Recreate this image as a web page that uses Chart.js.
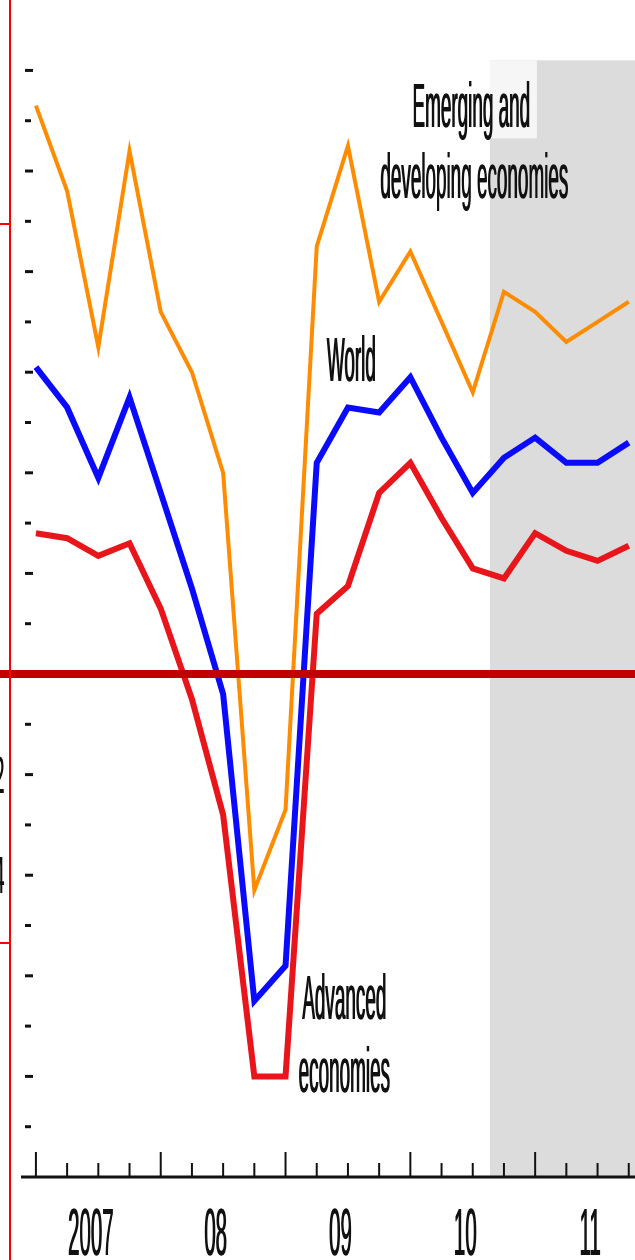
<!DOCTYPE html>
<html>
<head>
<meta charset="utf-8">
<script src="https://cdn.jsdelivr.net/npm/chart.js"></script>
<style>
  html, body { margin: 0; padding: 0; background: #fff; }
  #wrap { width: 635px; height: 1260px; position: relative; }
</style>
</head>
<body>
<div id="wrap"><canvas id="growth-chart"></canvas></div>
<script>
var quarters = ['2007Q1', '2007Q2', '2007Q3', '2007Q4', '2008Q1', '2008Q2', '2008Q3', '2008Q4',
  '2009Q1', '2009Q2', '2009Q3', '2009Q4', '2010Q1', '2010Q2', '2010Q3', '2010Q4',
  '2011Q1', '2011Q2', '2011Q3', '2011Q4'];
var emerging = [11.3, 9.6, 6.5, 10.4, 7.2, 6.0, 4.0, -4.3, -2.7, 8.5, 10.5, 7.4, 8.4, 7.0, 5.6, 7.6, 7.2, 6.6, 7.0, 7.4];
var world = [6.1, 5.3, 3.9, 5.5, 3.6, 1.7, -0.4, -6.5, -5.8, 4.2, 5.3, 5.2, 5.9, 4.7, 3.6, 4.3, 4.7, 4.2, 4.2, 4.6];
var advanced = [2.8, 2.7, 2.35, 2.6, 1.3, -0.5, -2.8, -8.0, -8.0, 1.2, 1.75, 3.6, 4.2, 3.1, 2.1, 1.9, 2.8, 2.45, 2.25, 2.55];
var yearLabels = ['2007', '08', '09', '10', '11'];
var yTickValues = [-9, -8, -7, -6, -5, -4, -3, -2, -1, 1, 2, 3, 4, 5, 6, 7, 8, 9, 10, 11, 12];
var leftLabels = ['\u22122', '\u22124'];
var leftLabelValues = [-2, -4];
var projectionStart = 14.55; // quarter index where the shaded forecast begins

function points(arr) {
  return arr.map(function (v, i) { return { x: i, y: v }; });
}

// draws narrow text like the original condensed face (drawn twice to thicken stems)
function narrowText(c, text, x, y, size, sx, align) {
  for (var k = 0; k < 2; k++) {
    c.save();
    c.translate(x + k * 0.7, y);
    c.scale(sx, 1);
    c.font = size + 'px "Liberation Sans", Arial, sans-serif';
    c.textAlign = align || 'center';
    c.textBaseline = 'alphabetic';
    c.fillStyle = '#111';
    c.fillText(text, 0, 0);
    c.restore();
  }
}

var decor = {
  id: 'decor',
  beforeDatasetsDraw: function (chart) {
    var c = chart.ctx, xs = chart.scales.x, ys = chart.scales.y, a = chart.chartArea;
    c.save();
    var sx = xs.getPixelForValue(projectionStart);
    var sy = ys.getPixelForValue(12.2);
    c.fillStyle = '#dcdcdc';
    c.fillRect(sx, sy, a.right - sx, a.bottom - sy);
    c.fillStyle = '#f6f6f6';
    c.fillRect(sx, sy, 47, 78);
    c.restore();
  },
  afterDatasetsDraw: function (chart) {
    var c = chart.ctx, xs = chart.scales.x, ys = chart.scales.y, a = chart.chartArea;
    c.save();

    // zero line across the whole width
    var y0 = ys.getPixelForValue(0);
    c.strokeStyle = '#c00000';
    c.lineWidth = 8;
    c.beginPath();
    c.moveTo(0, y0);
    c.lineTo(chart.width, y0);
    c.stroke();

    // y dashes
    c.strokeStyle = '#111';
    c.lineWidth = 3;
    yTickValues.forEach(function (v) {
      var py = ys.getPixelForValue(v);
      var w = (v % 2 === 0) ? 8 : 6;
      c.beginPath();
      c.moveTo(a.left, py);
      c.lineTo(a.left + w, py);
      c.stroke();
    });

    // x axis with quarter ticks pointing up
    c.lineWidth = 3;
    c.beginPath();
    c.moveTo(a.left - 4, a.bottom);
    c.lineTo(a.right, a.bottom);
    c.stroke();
    c.lineWidth = 2;
    quarters.forEach(function (q, i) {
      var px = xs.getPixelForValue(i);
      var h = (i % 4 === 0) ? 25 : 14;
      c.beginPath();
      c.moveTo(px, a.bottom);
      c.lineTo(px, a.bottom - h);
      c.stroke();
    });

    yearLabels.forEach(function (t, k) {
      narrowText(c, t, xs.getPixelForValue(4 * k + 1.75), a.bottom + 78, 66, 0.31);
    });

    // series labels
    narrowText(c, 'Emerging and', 471, 127, 63, 0.30);
    narrowText(c, 'developing economies', 474, 198, 63, 0.30);
    narrowText(c, 'World', 351, 381, 63, 0.30);
    narrowText(c, 'Advanced', 344, 1019, 63, 0.30);
    narrowText(c, 'economies', 344, 1092, 63, 0.30);

    // frame on the left and the cut-off axis numbers
    c.strokeStyle = '#ff0000';
    c.lineWidth = 2;
    c.beginPath();
    c.moveTo(10, 0); c.lineTo(10, chart.height);
    c.moveTo(0, 224); c.lineTo(10, 224);
    c.moveTo(0, 943); c.lineTo(10, 943);
    c.stroke();
    leftLabels.forEach(function (t, k) {
      narrowText(c, t, 4, ys.getPixelForValue(leftLabelValues[k]) + 18, 52, 0.35, 'right');
    });

    c.restore();
  }
};

document.addEventListener('DOMContentLoaded', function () {
  var ctx = document.getElementById('growth-chart').getContext('2d');
  var myChart = new Chart(ctx, {
    type: 'line',
    data: {
      labels: quarters,
      datasets: [{
        label: 'Emerging and developing economies',
        data: points(emerging),
        borderColor: '#ff8c00',
        borderWidth: 4,
        pointRadius: 0
      },
      {
        label: 'World',
        data: points(world),
        borderColor: '#0a0aff',
        borderWidth: 6,
        pointRadius: 0
      },
      {
        label: 'Advanced economies',
        data: points(advanced),
        borderColor: '#e8161a',
        borderWidth: 6,
        pointRadius: 0
      }]
    },
    options: {
      responsive: true,
      maintainAspectRatio: false,
      animation: false,
      layout: {
        padding: { left: 25, right: 0, top: 0, bottom: 83 }
      },
      scales: {
        x: {
          type: 'linear',
          display: false,
          min: -0.35,
          max: 19.2
        },
        y: {
          display: false,
          min: -10,
          max: 13.4
        }
      },
      plugins: {
        legend: {
          display: false
        },
        tooltip: {
          enabled: false
        }
      }
    },
    plugins: [decor]
  });
});
</script>
</body>
</html>
